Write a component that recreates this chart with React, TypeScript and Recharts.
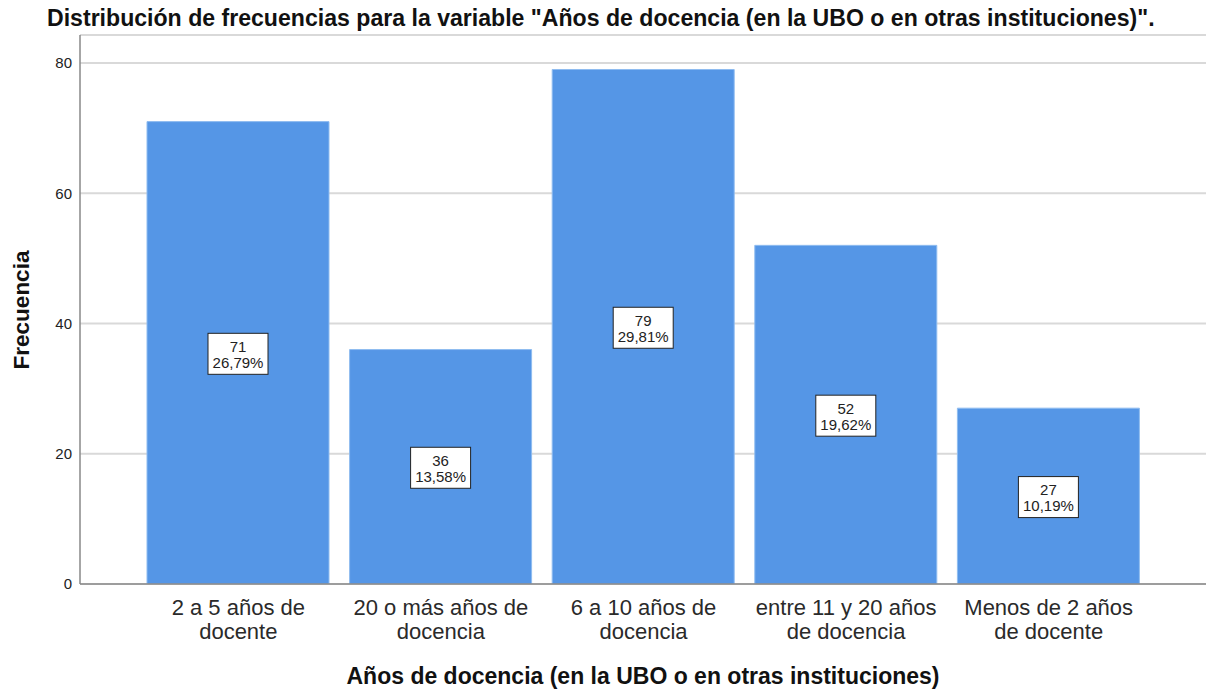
import React from "react";
import { BarChart, Bar, XAxis, YAxis, CartesianGrid, LabelList } from "recharts";

const categories = [
  "2 a 5 años de docente",
  "20 o más años de docencia",
  "6 a 10 años de docencia",
  "entre 11 y 20 años de docencia",
  "Menos de 2 años de docente",
];
const tickLines = [
  ["2 a 5 años de", "docente"],
  ["20 o más años de", "docencia"],
  ["6 a 10 años de", "docencia"],
  ["entre 11 y 20 años", "de docencia"],
  ["Menos de 2 años", "de docente"],
];
const frequencies = [71, 36, 79, 52, 27];
const percents = ["26,79%", "13,58%", "29,81%", "19,62%", "10,19%"];
const yTicks = [0, 20, 40, 60, 80];

const title = 'Distribución de frecuencias para la variable "Años de docencia (en la UBO o en otras instituciones)".';
const xTitle = "Años de docencia (en la UBO o en otras instituciones)";
const yTitle = "Frecuencia";

const data = categories.map((c, i) => ({ name: c, value: frequencies[i], pct: percents[i], idx: i }));

const FONT = "'Liberation Sans', Arial, Helvetica, sans-serif";

const XTick = (props: any) => {
  const { x, y, payload } = props;
  const i = categories.indexOf(payload.value);
  const lines = i >= 0 ? tickLines[i] : [String(payload.value)];
  return (
    <g transform={`translate(${x},${y})`}>
      {lines.map((l, k) => (
        <text key={k} x={0} y={23 + k * 24} textAnchor="middle" fontSize={22} fill="#2a2a2a" fontFamily={FONT}>
          {l}
        </text>
      ))}
    </g>
  );
};

const BoxLabel = (props: any) => {
  const { x, y, width, height, index } = props;
  const cx = x + width / 2;
  const cy = y + height / 2 + 1;
  const w = 60;
  const h = 41;
  return (
    <g>
      <rect x={cx - w / 2} y={cy - h / 2} width={w} height={h} fill="#fff" stroke="#222" strokeWidth={1} />
      <text x={cx} y={cy - 2} textAnchor="middle" fontSize={15} fill="#222" fontFamily={FONT}>
        {frequencies[index]}
      </text>
      <text x={cx} y={cy + 14} textAnchor="middle" fontSize={15} fill="#222" fontFamily={FONT}>
        {percents[index]}
      </text>
    </g>
  );
};

export default function App() {
  return (
    <div style={{ position: "absolute", left: 0, top: 0, width: 1206, height: 689, background: "#fff", fontFamily: FONT }}>
      <div
        style={{
          position: "absolute",
          left: 47,
          top: 6,
          fontSize: 23.1,
          fontWeight: "bold",
          color: "#111",
          whiteSpace: "nowrap",
          lineHeight: "24px",
        }}
      >
        {title}
      </div>
      <div
        style={{
          position: "absolute",
          left: 22,
          top: 310,
          transform: "translate(-50%, -50%) rotate(-90deg)",
          fontSize: 22.5,
          fontWeight: "bold",
          color: "#111",
          whiteSpace: "nowrap",
        }}
      >
        {yTitle}
      </div>
      <div
        style={{
          position: "absolute",
          left: 643,
          top: 676,
          transform: "translate(-50%, -50%)",
          fontSize: 23,
          fontWeight: "bold",
          color: "#111",
          whiteSpace: "nowrap",
        }}
      >
        {xTitle}
      </div>
      <BarChart width={1206} height={689} data={data} margin={{ top: 35, right: 0, bottom: 0, left: 0 }}>
        <CartesianGrid vertical={false} stroke="#d9d9d9" strokeWidth={2} />
        <XAxis
          dataKey="name"
          height={105}
          padding={{ left: 57, right: 56 }}
          tickLine={false}
          axisLine={{ stroke: "#888", strokeWidth: 1.5 }}
          tick={<XTick />}
          interval={0}
        />
        <YAxis
          width={80}
          domain={[0, 84.3]}
          ticks={yTicks}
          allowDataOverflow
          tickLine={false}
          axisLine={{ stroke: "#888", strokeWidth: 1.5 }}
          tick={{ fontSize: 15, fill: "#222", fontFamily: FONT }}
        />
        <Bar dataKey="value" fill="#5596E6" stroke="#8fbcf0" strokeWidth={1} barSize={182} isAnimationActive={false}>
          <LabelList dataKey="value" content={<BoxLabel />} />
        </Bar>
      </BarChart>
    </div>
  );
}
